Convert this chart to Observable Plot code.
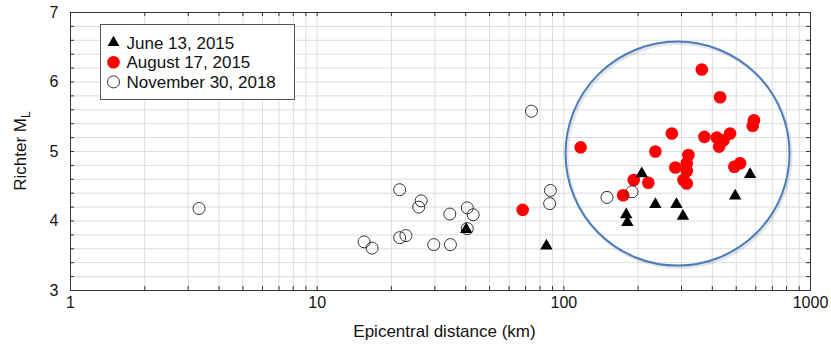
<!DOCTYPE html>
<html><head><meta charset="utf-8">
<script src="https://cdn.jsdelivr.net/npm/d3@7"></script>
<script src="https://cdn.jsdelivr.net/npm/@observablehq/plot@0.6"></script>
<style>
body{margin:0;background:#fff;}
#chart{width:831px;height:346px;}
</style>
</head><body><div id="chart"></div>
<script>
// June 13, 2015 (black triangles)
const juneX = [40.2, 85, 179, 181, 207, 235, 286, 304, 495, 569];
const juneY = [3.88, 3.64, 4.09, 3.98, 4.68, 4.24, 4.24, 4.07, 4.36, 4.67];
// August 17, 2015 (red dots)
const augX = [68.1, 117, 174, 192, 220, 235, 274, 283, 305.5, 315, 315, 315, 320, 362.6, 371.5, 417, 426, 430, 444, 472, 491, 518, 583, 590];
const augY = [4.16, 5.06, 4.37, 4.59, 4.55, 5.00, 5.26, 4.77, 4.59, 4.54, 4.72, 4.83, 4.95, 6.18, 5.21, 5.20, 5.07, 5.78, 5.16, 5.26, 4.78, 4.83, 5.37, 5.45];
// November 30, 2018 (open circles)
const novX = [3.32, 15.5, 16.7, 21.6, 21.6, 22.9, 25.8, 26.4, 29.7, 34.5, 34.7, 40.6, 40.6, 42.9, 73.9, 87.6, 88.2, 149.6, 189];
const novY = [4.18, 3.70, 3.61, 4.45, 3.76, 3.79, 4.20, 4.29, 3.66, 4.10, 3.66, 4.19, 3.89, 4.09, 5.58, 4.25, 4.44, 4.34, 4.42];
// highlighted cluster (circle annotation centre)
const clusterX = [289];
const clusterY = [4.97];

const xTickLabels = [1, 10, 100, 1000];
const yTickLabels = [3, 4, 5, 6, 7];
const legendLabels = ["June 13, 2015", "August 17, 2015", "November 30, 2018"];
const xAxisTitle = "Epicentral distance (km)";
const yAxisTitleMain = "Richter M";
const yAxisTitleSub = "L";

const xMinor = [1, 10, 100].flatMap(d => d3.range(1, 10).map(k => k * d)).concat([1000]);
const yMinor = d3.range(15, 36).map(v => v / 5);

const june = juneX.map((x, i) => ({x, y: juneY[i]}));
const aug = augX.map((x, i) => ({x, y: augY[i]}));
const nov = novX.map((x, i) => ({x, y: novY[i]}));
const cluster = clusterX.map((x, i) => ({x, y: clusterY[i]}));

const W = 831, H = 346, ML = 70, MR = 21, MT = 12, MB = 56;
const innerW = W - ML - MR, innerH = H - MT - MB;
const FONT = "'Liberation Sans', Arial, Helvetica, sans-serif";

const chart = Plot.plot({
  width: W, height: H,
  marginLeft: ML, marginRight: MR, marginTop: MT, marginBottom: MB,
  style: {fontFamily: FONT, fontSize: "16px", color: "#111", background: "#fff"},
  x: {type: "log", domain: [1, 1000]},
  y: {domain: [3, 7]},
  marks: [
    Plot.ruleX(xMinor, {x: d => d, stroke: "#dcdcdc", strokeWidth: 1}),
    Plot.ruleY(yMinor, {y: d => d, stroke: "#dcdcdc", strokeWidth: 1}),
    Plot.tickX(xMinor, {x: d => d, insetTop: innerH - 4, stroke: "#333"}),
    Plot.tickX(xMinor, {x: d => d, insetBottom: innerH - 4, stroke: "#333"}),
    Plot.tickY(yMinor, {y: d => d, insetRight: innerW - 4, stroke: "#333"}),
    Plot.tickY(yMinor, {y: d => d, insetLeft: innerW - 4, stroke: "#333"}),
    Plot.frame({stroke: "#333"}),
    Plot.dot(cluster, {x: "x", y: "y", r: 112, stroke: "#000", strokeOpacity: 0.1, strokeWidth: 3, fill: "none", dx: 1.5, dy: 2}),
    Plot.dot(cluster, {x: "x", y: "y", r: 112, stroke: "#4a7ebb", strokeWidth: 2, fill: "none"}),
    Plot.dot(aug, {x: "x", y: "y", r: 6.3, fill: "#ff0000", stroke: "none"}),
    Plot.dot(nov, {x: "x", y: "y", r: 6, fill: "none", stroke: "#333", strokeWidth: 1}),
    Plot.dot(june, {x: "x", y: "y", r: 4.6, symbol: "triangle", fill: "#000", stroke: "none"}),
    Plot.axisX({ticks: xTickLabels, tickFormat: d => String(d), tickSize: 0, tickPadding: 6, fontSize: 16, label: null}),
    Plot.axisY({ticks: yTickLabels, tickFormat: d => String(d), tickSize: 0, tickPadding: 12, fontSize: 16, label: null}),
    Plot.text([xAxisTitle], {frameAnchor: "bottom", lineAnchor: "middle", text: d => d, dy: 41, dx: 4, fontSize: 17, fill: "#111"})
  ]
});
document.getElementById("chart").appendChild(chart);

const svg = d3.select(chart);
// y-axis title with subscript
const yt = svg.append("text")
  .attr("transform", "translate(26,151) rotate(-90)")
  .attr("text-anchor", "middle")
  .attr("font-family", FONT).attr("font-size", 17).attr("fill", "#111");
yt.append("tspan").text(yAxisTitleMain);
yt.append("tspan").attr("font-size", 12).attr("dy", 4).text(yAxisTitleSub);

// legend
const lg = svg.append("g").attr("font-family", FONT).attr("font-size", 17).attr("fill", "#111")
  .attr("text-anchor", "start");
lg.append("rect").attr("x", 100.5).attr("y", 24.5).attr("width", 194).attr("height", 75)
  .attr("fill", "#fff").attr("stroke", "#555").attr("stroke-width", 1);
const symbols = [
  {path: d3.symbol(d3.symbolTriangle, 60)(), fill: "#000", stroke: "none"},
  {path: d3.symbol(d3.symbolCircle, Math.PI * 6.3 * 6.3)(), fill: "#ff0000", stroke: "none"},
  {path: d3.symbol(d3.symbolCircle, Math.PI * 6 * 6)(), fill: "#fff", stroke: "#333"}
];
legendLabels.forEach((label, i) => {
  const cy = 42.5 + i * 19.7;
  lg.append("path").attr("d", symbols[i].path).attr("transform", `translate(113.5,${cy})`)
    .attr("fill", symbols[i].fill).attr("stroke", symbols[i].stroke);
  lg.append("text").attr("x", 126.5).attr("y", cy).attr("dy", "0.36em").attr("text-anchor", "start").text(label);
});
</script>
</body></html>
